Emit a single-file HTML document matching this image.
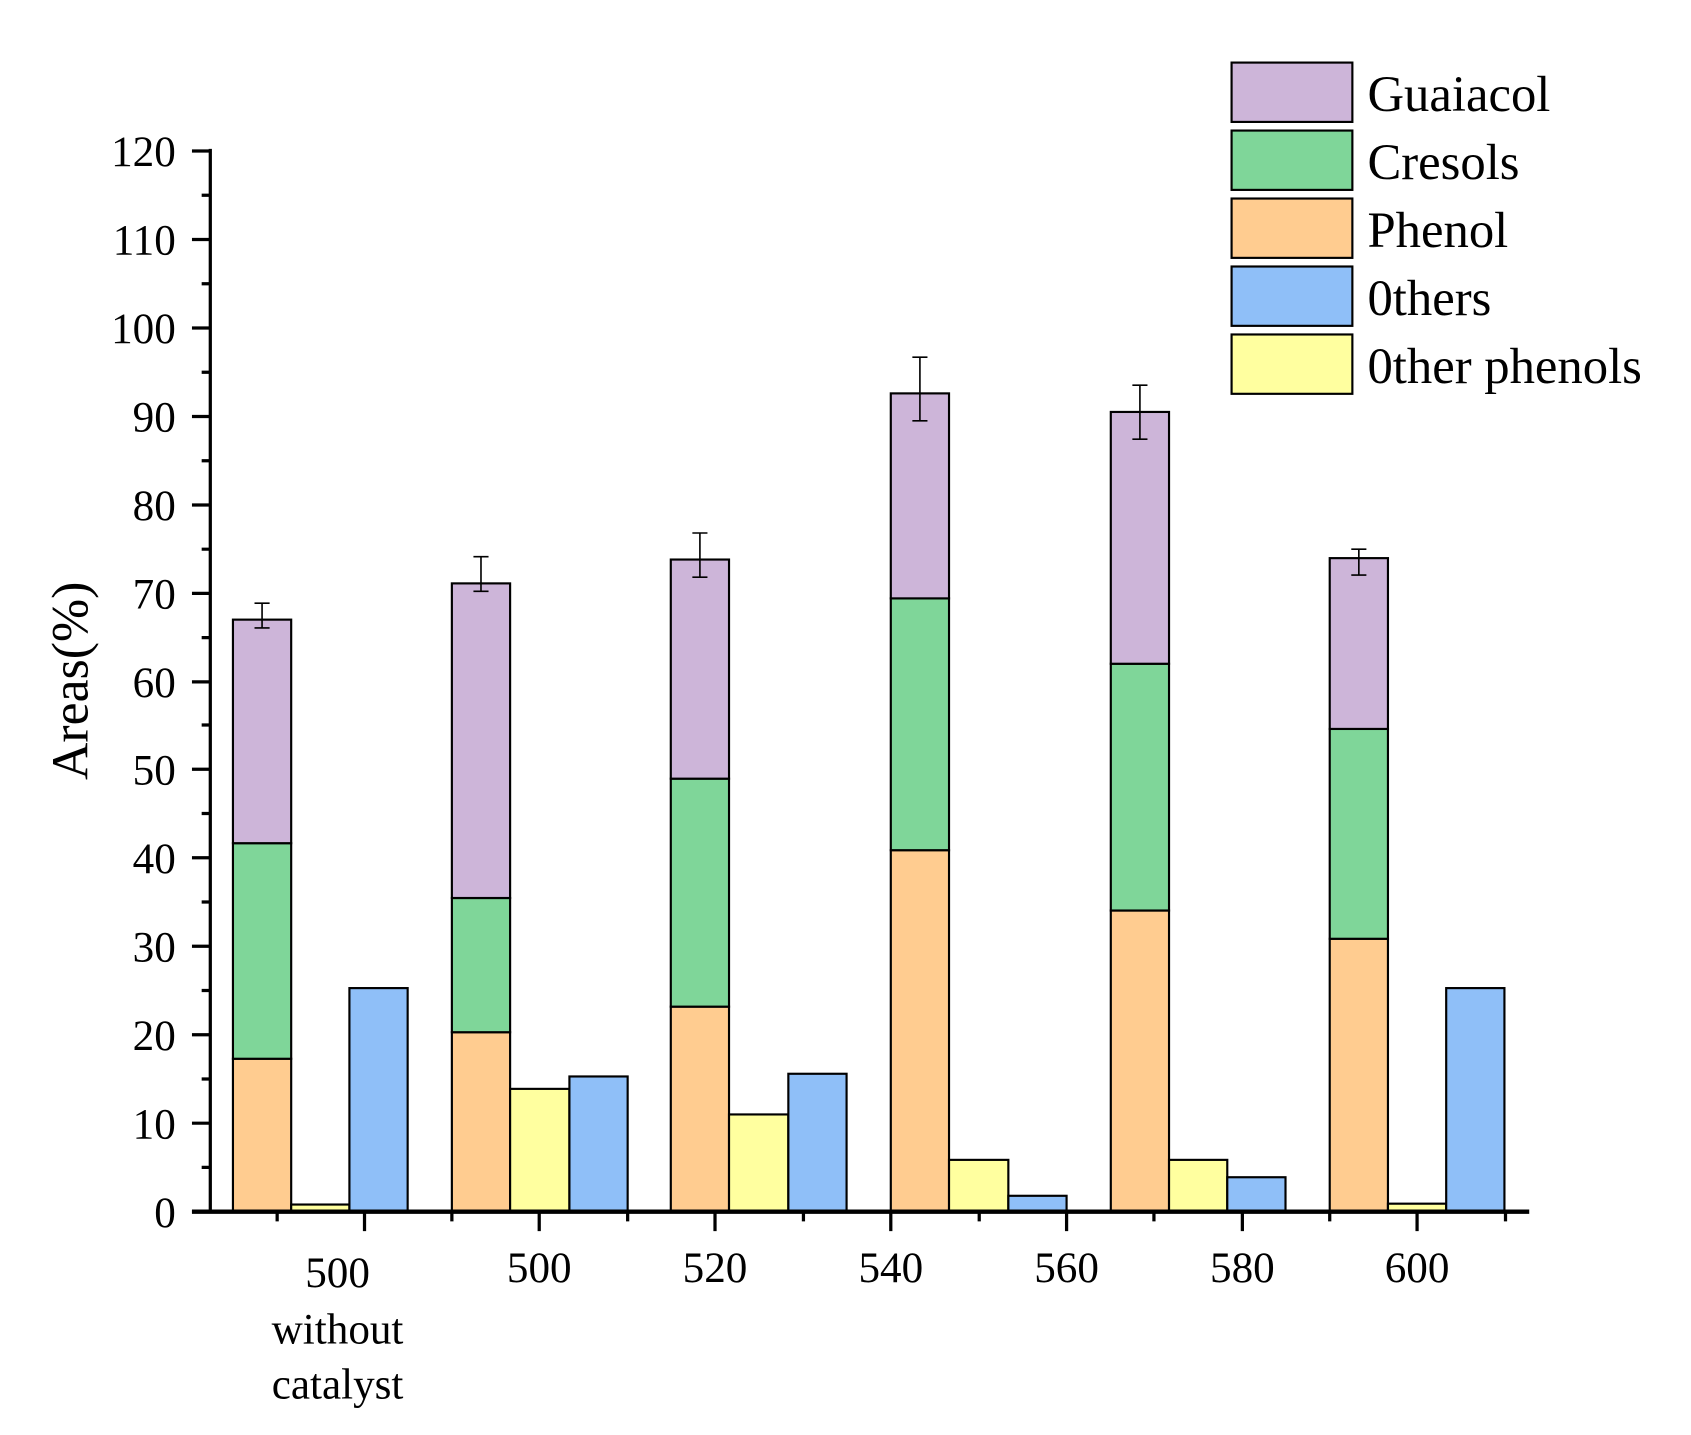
<!DOCTYPE html>
<html><head><meta charset="utf-8"><style>html,body{margin:0;padding:0;background:#fff}svg{display:block}</style></head>
<body>
<svg width="1691" height="1435" viewBox="0 0 1568 1330" preserveAspectRatio="none" xmlns="http://www.w3.org/2000/svg" font-family="Liberation Serif, serif">
<g stroke="#000" stroke-width="2">
<rect x="216" y="981.3" width="54" height="141.7" fill="#ffcc90"/>
<rect x="216" y="781.5" width="54" height="199.8" fill="#7fd699"/>
<rect x="216" y="574.3" width="54" height="207.2" fill="#cdb5d9"/>
<rect x="270" y="1116.4" width="54" height="6.6" fill="#ffff9f"/>
<rect x="324" y="915.8" width="54" height="207.2" fill="#8fbff8"/>
<rect x="419" y="956.7" width="54" height="166.3" fill="#ffcc90"/>
<rect x="419" y="832.3" width="54" height="124.4" fill="#7fd699"/>
<rect x="419" y="540.7" width="54" height="291.6" fill="#cdb5d9"/>
<rect x="473" y="1009.2" width="55" height="113.8" fill="#ffff9f"/>
<rect x="528" y="997.7" width="54" height="125.3" fill="#8fbff8"/>
<rect x="622" y="933" width="54" height="190" fill="#ffcc90"/>
<rect x="622" y="721.7" width="54" height="211.3" fill="#7fd699"/>
<rect x="622" y="518.6" width="54" height="203.1" fill="#cdb5d9"/>
<rect x="676" y="1032.9" width="55" height="90.1" fill="#ffff9f"/>
<rect x="731" y="995.2" width="54" height="127.8" fill="#8fbff8"/>
<rect x="826" y="788" width="54" height="335" fill="#ffcc90"/>
<rect x="826" y="554.6" width="54" height="233.4" fill="#7fd699"/>
<rect x="826" y="364.6" width="54" height="190" fill="#cdb5d9"/>
<rect x="880" y="1075" width="55" height="48" fill="#ffff9f"/>
<rect x="935" y="1108.3" width="54" height="14.7" fill="#8fbff8"/>
<rect x="1030" y="843.9" width="54" height="279.1" fill="#ffcc90"/>
<rect x="1030" y="615.2" width="54" height="228.7" fill="#7fd699"/>
<rect x="1030" y="381.8" width="54" height="233.4" fill="#cdb5d9"/>
<rect x="1084" y="1075" width="54" height="48" fill="#ffff9f"/>
<rect x="1138" y="1091.1" width="54" height="31.9" fill="#8fbff8"/>
<rect x="1233" y="870.1" width="54" height="252.9" fill="#ffcc90"/>
<rect x="1233" y="675.6" width="54" height="194.5" fill="#7fd699"/>
<rect x="1233" y="517.3" width="54" height="158.3" fill="#cdb5d9"/>
<rect x="1287" y="1115.6" width="54" height="7.4" fill="#ffff9f"/>
<rect x="1341" y="915.8" width="54" height="207.2" fill="#8fbff8"/>
</g>
<g stroke="#000" stroke-width="1.5" fill="none">
<path d="M243 582v-23M236 559h14M236 582h14"/>
<path d="M446 548v-32M439 516h14M439 548h14"/>
<path d="M649 535v-41M642 494h14M642 535h14"/>
<path d="M853 390v-59M846 331h14M846 390h14"/>
<path d="M1057 407v-50M1050 357h14M1050 407h14"/>
<path d="M1260 533v-24M1253 509h14M1253 533h14"/>
</g>
<g stroke="#000" stroke-width="3">
<line x1="195" y1="138" x2="195" y2="1124"/>
<line x1="178" y1="1123" x2="1418" y2="1123" stroke-width="4"/>
</g>
<g stroke="#000" stroke-width="3">
<path d="M178 1123h17M178 1041h17M178 959h17M178 877h17M178 795h17M178 713h17M178 632h17M178 550h17M178 468h17M178 386h17M178 304h17M178 222h17M178 140h17"/>
<path d="M187 1082h8M187 1000h8M187 918h8M187 836h8M187 754h8M187 672h8M187 591h8M187 509h8M187 427h8M187 345h8M187 263h8M187 181h8"/>
<path d="M338 1123v18M500 1123v18M663 1123v18M826 1123v18M989 1123v18M1152 1123v18M1314 1123v18"/>
<path d="M257 1123v9M419 1123v9M582 1123v9M745 1123v9M908 1123v9M1070 1123v9M1233 1123v9M1396 1123v9"/>
</g>
<g font-size="40" text-anchor="end" fill="#000">
<text x="163" y="1137">0</text><text x="163" y="1055">10</text><text x="163" y="973">20</text><text x="163" y="891">30</text><text x="163" y="809">40</text><text x="163" y="727">50</text><text x="163" y="646">60</text><text x="163" y="564">70</text><text x="163" y="482">80</text><text x="163" y="400">90</text><text x="163" y="318">100</text><text x="163" y="236">110</text><text x="163" y="154">120</text>
</g>
<g font-size="40" text-anchor="middle" fill="#000">
<text x="313" y="1193">500</text><text x="313" y="1245">without</text><text x="313" y="1296">catalyst</text>
<text x="500" y="1188">500</text><text x="663" y="1188">520</text><text x="826" y="1188">540</text><text x="989" y="1188">560</text><text x="1152" y="1188">580</text><text x="1314" y="1188">600</text>
</g>
<text transform="translate(81,631) rotate(-90)" font-size="48" text-anchor="middle">Areas(%)</text>
<g stroke="#000" stroke-width="2">
<rect x="1142" y="58" width="112" height="55" fill="#cdb5d9"/>
<rect x="1142" y="121" width="112" height="55" fill="#7fd699"/>
<rect x="1142" y="184" width="112" height="55" fill="#ffcc90"/>
<rect x="1142" y="247" width="112" height="55" fill="#8fbff8"/>
<rect x="1142" y="310" width="112" height="55" fill="#ffff9f"/>
</g>
<g font-size="47" fill="#000">
<text x="1268" y="103">Guaiacol</text><text x="1268" y="166">Cresols</text><text x="1268" y="229">Phenol</text><text x="1268" y="292">0thers</text><text x="1268" y="355">0ther phenols</text>
</g>
</svg>
</body></html>
